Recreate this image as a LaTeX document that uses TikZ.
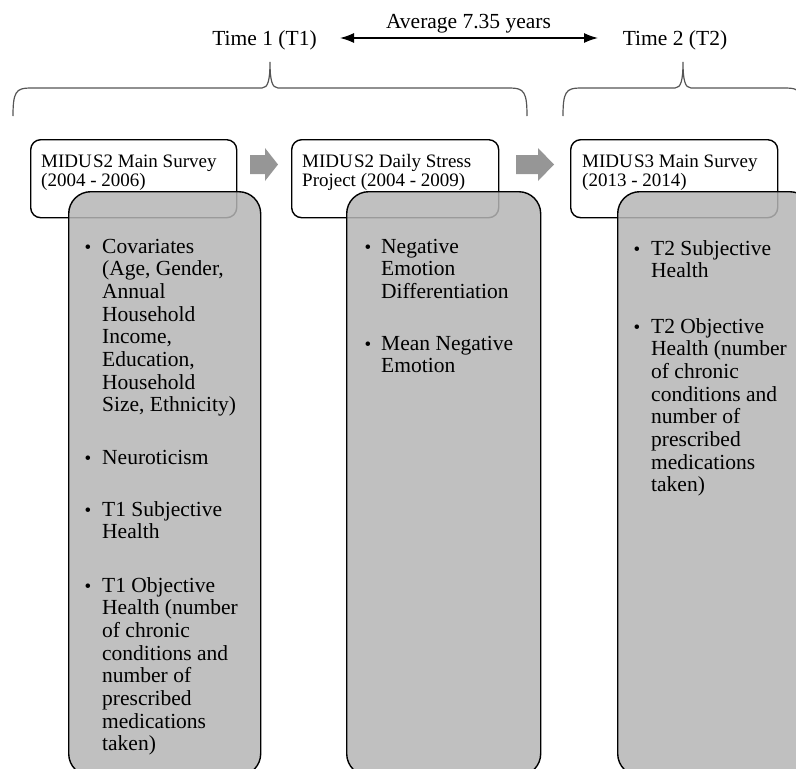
\documentclass[tikz,border=0pt]{standalone}
\usepackage{fontspec}
\setmainfont{Liberation Serif}
\usetikzlibrary{arrows.meta}
\definecolor{boxgray}{RGB}{181,181,181}
\definecolor{arrowgray}{RGB}{150,150,150}
\definecolor{bracegray}{RGB}{85,85,85}
\newcommand\mylines[1]{\begin{tabular}[t]{@{}l@{}}#1\end{tabular}}
\newcommand\midus[1]{MIDU\kern1.2pt S#1}
\begin{document}
\begin{tikzpicture}[x=1pt,y=-1pt,
  whitebox/.style={draw=black, line width=1.4pt, rounded corners=10pt, fill=white, inner sep=0pt, anchor=north west},
  graybox/.style={draw=black, line width=1.4pt, rounded corners=22pt, fill=boxgray, fill opacity=0.85, inner sep=0pt, anchor=north west},
  wtext/.style={font=\fontsize{19}{19.7}\selectfont, inner sep=0pt, anchor=base west},
  gtext/.style={font=\fontsize{21.5}{22.7}\selectfont, inner sep=0pt, anchor=base west},
  toptext/.style={font=\fontsize{21.5}{22.7}\selectfont, inner sep=0pt, anchor=base},
  bul/.style={font=\fontsize{19}{20}\selectfont, inner sep=0pt, anchor=base},
  brace/.style={draw=bracegray, line width=1.2pt},
  timearrow/.style={line width=1.4pt, {Latex[length=14pt,width=10pt]}-{Latex[length=14pt,width=10pt]}},
  blockarrow/.style={fill=arrowgray}
]
\useasboundingbox (0,0) rectangle (796,769);
\clip (0,0) rectangle (796,769);

% top labels and time arrow
\node[toptext] (t1) at (264.5,45) {Time 1 (T1)};
\node[toptext] (t2) at (675,45) {Time 2 (T2)};
\node[toptext] (avg) at (468.5,28) {Average 7.35 years};
\coordinate (a1) at (340,38);
\coordinate (a2) at (598,38);
\draw[timearrow] (a1) -- (a2);

% braces
\draw[brace] (13,116) .. controls (13,92) and (16,88) .. (30,88) -- (262,88)
  .. controls (268,88) and (270,80) .. (270,62)
  .. controls (270,80) and (272,88) .. (278,88) -- (510,88)
  .. controls (524,88) and (527,92) .. (527,116);
\draw[brace] (563,116) .. controls (563,92) and (566,88) .. (580,88) -- (675,88)
  .. controls (681,88) and (683,80) .. (683,62)
  .. controls (683,80) and (685,88) .. (691,88) -- (786,88)
  .. controls (800,88) and (803,92) .. (803,116);

% white boxes
\node[whitebox, minimum width=206pt, minimum height=78pt] (w1) at (30,139) {};
\node[whitebox, minimum width=207pt, minimum height=78pt] (w2) at (291,139) {};
\node[whitebox, minimum width=207pt, minimum height=78pt] (w3) at (570,139) {};
\node[wtext] (w1t) at (41,167) {\mylines{\midus{2} Main Survey\\(2004 - 2006)}};
\node[wtext] (w2t) at (302,167) {\mylines{\midus{2} Daily Stress\\Project (2004 - 2009)}};
\node[wtext] (w3t) at (582,167) {\mylines{\midus{3} Main Survey\\(2013 - 2014)}};

% block arrows
\fill[blockarrow] (250,155) -- (265,155) -- (265,148) -- (278,164.5) -- (265,181) -- (265,174) -- (250,174) -- cycle;
\fill[blockarrow] (516,155) -- (538,155) -- (538,148) -- (554,164.5) -- (538,181) -- (538,174) -- (516,174) -- cycle;

% gray boxes
\node[graybox, minimum width=192pt, minimum height=584pt] (g1) at (68,191) {};
\node[graybox, minimum width=194pt, minimum height=584pt] (g2) at (346,191) {};
\node[graybox, minimum width=194pt, minimum height=584pt] (g3) at (617,191) {};

% box 1 items
\node[bul] (b11) at (88,253) {\textbullet};
\node[gtext] (i11) at (102,253) {\mylines{Covariates\\(Age, Gender,\\Annual\\Household\\Income,\\Education,\\Household\\Size, Ethnicity)}};
\node[bul] (b12) at (88,464) {\textbullet};
\node[gtext] (i12) at (102,464) {Neuroticism};
\node[bul] (b13) at (88,516) {\textbullet};
\node[gtext] (i13) at (102,516) {\mylines{T1 Subjective\\Health}};
\node[bul] (b14) at (88,592) {\textbullet};
\node[gtext] (i14) at (102,592) {\mylines{T1 Objective\\Health (number\\of chronic\\conditions and\\number of\\prescribed\\medications\\taken)}};

% box 2 items
\node[bul] (b21) at (368,253) {\textbullet};
\node[gtext] (i21) at (381,253) {\mylines{Negative\\Emotion\\Differentiation}};
\node[bul] (b22) at (368,350) {\textbullet};
\node[gtext] (i22) at (381,350) {\mylines{Mean Negative\\Emotion}};

% box 3 items
\node[bul] (b31) at (637,255) {\textbullet};
\node[gtext] (i31) at (651,255) {\mylines{T2 Subjective\\Health}};
\node[bul] (b32) at (637,333) {\textbullet};
\node[gtext] (i32) at (651,333) {\mylines{T2 Objective\\Health (number\\of chronic\\conditions and\\number of\\prescribed\\medications\\taken)}};
\end{tikzpicture}
\end{document}
